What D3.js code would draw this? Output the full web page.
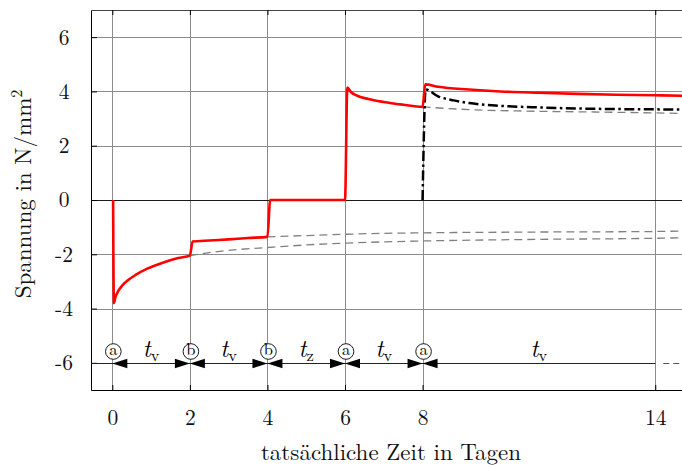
<!DOCTYPE html>
<html><head><meta charset="utf-8">
<script src="https://cdn.jsdelivr.net/npm/d3@7"></script>
<style>body{margin:0;background:#fff} svg{display:block}</style>
</head><body><svg id="c" width="682" height="466"></svg>
<script>
// ---------- data ----------
const xTicks = [0, 2, 4, 6, 8, 14];
const yTicks = [-6, -4, -2, 0, 2, 4, 6];
const yTickLabels = ["-6", "-4", "-2", "0", "2", "4", "6"];

// resulting stress (red)
const redSeries = [
  [0.02, 0], [0.04, -3.80], [0.08, -3.58], [0.15, -3.36], [0.25, -3.16], [0.4, -2.96],
  [0.6, -2.76], [0.9, -2.53], [1.3, -2.31], [1.7, -2.14], [2.0, -2.05],
  [2.07, -1.53], [2.5, -1.49], [3.0, -1.45], [3.5, -1.40], [4.0, -1.36],
  [4.07, 0], [6.0, 0],
  [6.06, 4.14], [6.15, 3.98], [6.3, 3.85], [6.6, 3.72], [7.0, 3.61], [7.5, 3.51], [8.0, 3.43],
  [8.07, 4.26], [8.4, 4.17], [9.2, 4.07], [10.0, 4.00], [11.0, 3.95], [12.0, 3.91],
  [13.0, 3.88], [14.0, 3.86], [14.7, 3.84]
];
// single load step at day 8 (black dash-dot)
const dashDotSeries = [
  [8.0, 0], [8.08, 4.07], [8.4, 3.82], [8.8, 3.67], [9.2, 3.57], [10.0, 3.47],
  [11.0, 3.41], [12.0, 3.37], [13.0, 3.35], [14.0, 3.34], [14.7, 3.33]
];
// continuations without further steps (gray dashed)
const grayA = [
  [2.0, -2.05], [2.6, -1.92], [3.2, -1.83], [4.0, -1.75], [5.2, -1.64], [6.6, -1.56],
  [8.0, -1.51], [11.0, -1.45], [14.0, -1.41], [14.7, -1.39]
];
const grayB = [
  [4.0, -1.36], [5.2, -1.30], [6.6, -1.24], [8.0, -1.21], [11.0, -1.18], [14.0, -1.16], [14.7, -1.14]
];
const grayC = [
  [8.0, 3.43], [9.2, 3.33], [10.9, 3.27], [12.6, 3.24], [14.7, 3.19]
];

// events on the time bar
const eventTimes = [0, 2, 4, 6, 8];
const eventLetters = ["a", "b", "b", "a", "a"];
const intervalCenters = [1, 3, 5, 7, 11];
const intervalSubs = ["v", "v", "z", "v", "v"];
const barLevel = -6;
const barEnd = 14;

const xLabel = "tatsächliche Zeit in Tagen";
const yLabel = "Spannung in N/mm";

// ---------- layout ----------
const L = 91, T = 10, R = 682.4, B = 390;
const svg = d3.select("#c");
const x = d3.scaleLinear().domain([-0.55, 14.7]).range([L, R]);
const y = d3.scaleLinear().domain([-7, 7]).range([B, T]);
const serif = '"Latin Modern Roman", "Liberation Serif", serif';
const setFont = (sel, size) => sel.style("font-family", serif).style("font-size", size + "px");

svg.append("defs").append("clipPath").attr("id", "pc")
  .append("rect").attr("x", L).attr("y", T).attr("width", R - L).attr("height", B - T);

// grid
const grid = svg.append("g");
grid.selectAll("line.v").data(xTicks).join("line")
  .attr("x1", d => Math.round(x(d)) + 0.5).attr("x2", d => Math.round(x(d)) + 0.5)
  .attr("y1", T).attr("y2", B).attr("stroke", "#8c8c8c").attr("stroke-width", 1);
grid.selectAll("line.h").data(yTicks.filter(d => d !== 0 && d !== barLevel)).join("line")
  .attr("y1", d => Math.round(y(d)) + 0.5).attr("y2", d => Math.round(y(d)) + 0.5)
  .attr("x1", L).attr("x2", R).attr("stroke", "#8c8c8c").attr("stroke-width", 1);
grid.append("line").attr("x1", L).attr("x2", R)
  .attr("y1", Math.round(y(0)) + 0.5).attr("y2", Math.round(y(0)) + 0.5)
  .attr("stroke", "#1a1a1a").attr("stroke-width", 1.1);

// axes
const gB = svg.append("g").attr("transform", `translate(0,${B})`)
  .call(d3.axisBottom(x).tickValues(xTicks).tickSizeInner(-5).tickSizeOuter(0).tickPadding(20).tickFormat(d3.format("d")));
const gT = svg.append("g").attr("transform", `translate(0,${T})`)
  .call(d3.axisTop(x).tickValues(xTicks).tickSizeInner(-5).tickSizeOuter(0).tickFormat(""));
const gL = svg.append("g").attr("transform", `translate(${L},0)`)
  .call(d3.axisLeft(y).tickValues(yTicks).tickSizeInner(-6).tickSizeOuter(0).tickFormat((d, i) => yTickLabels[i]));
[gB, gT, gL].forEach(g => {
  g.attr("font-family", null).attr("font-size", null);
  setFont(g.selectAll("text"), 21.5).attr("fill", "#111");
  g.selectAll("line").attr("stroke", "#000");
});
gT.select(".domain").attr("stroke", "#444");
gB.select(".domain").attr("stroke", "#000");
gL.select(".domain").attr("stroke", "#000");
gL.selectAll("text").attr("text-anchor", "middle").attr("x", -27);

// curves
const plot = svg.append("g").attr("clip-path", "url(#pc)");
const line = d3.line().x(d => x(d[0])).y(d => y(d[1])).curve(d3.curveMonotoneX);
[grayA, grayB, grayC].forEach(s => plot.append("path").attr("d", line(s))
  .attr("fill", "none").attr("stroke", "#808080").attr("stroke-width", 1.3).attr("stroke-dasharray", "8,5"));
plot.append("path").attr("d", line(dashDotSeries)).attr("fill", "none")
  .attr("stroke", "#000").attr("stroke-width", 2.5).attr("stroke-dasharray", "10,3.5,2.5,3.5");
plot.append("path").attr("d", line(redSeries)).attr("fill", "none")
  .attr("stroke", "#ff0000").attr("stroke-width", 2.6).attr("stroke-linejoin", "round");

// time bar
const yb = Math.round(y(barLevel)) + 0.5;
plot.append("line").attr("x1", L).attr("x2", x(barEnd)).attr("y1", yb).attr("y2", yb)
  .attr("stroke", "#222").attr("stroke-width", 1.1);
plot.append("line").attr("x1", x(barEnd) + 8).attr("x2", R).attr("y1", yb).attr("y2", yb)
  .attr("stroke", "#555").attr("stroke-width", 1.1).attr("stroke-dasharray", "6,4");

const tri = svg.append("g");
eventTimes.forEach((t, i) => {
  const tx = x(t);
  tri.append("path").attr("d", `M${tx},${yb}L${tx + 15},${yb - 4.8}L${tx + 15},${yb + 4.8}Z`).attr("fill", "#000");
  if (i > 0) tri.append("path").attr("d", `M${tx},${yb}L${tx - 15},${yb - 4.8}L${tx - 15},${yb + 4.8}Z`).attr("fill", "#000");
  tri.append("circle").attr("cx", tx + 1).attr("cy", yb - 12).attr("r", 7.8)
    .attr("fill", "#fff").attr("stroke", "#000").attr("stroke-width", 0.9);
  setFont(tri.append("text").attr("x", tx + 1).attr("y", yb - 8.2).attr("text-anchor", "middle"), 16.5)
    .attr("fill", "#000").text(eventLetters[i]);
});
intervalCenters.forEach((t, i) => {
  const tx = setFont(svg.append("text").attr("x", x(t)).attr("y", yb - 7).attr("text-anchor", "middle"), 24)
    .attr("fill", "#000");
  tx.append("tspan").style("font-style", "italic").text("t");
  tx.append("tspan").style("font-size", "16.5px").attr("dy", 4).text(intervalSubs[i]);
});

// axis titles
setFont(svg.append("text").attr("x", 391).attr("y", 460).attr("text-anchor", "middle"), 23)
  .attr("fill", "#111").text(xLabel);
const yl = setFont(svg.append("text").attr("transform", "translate(31,194) rotate(-90)").attr("text-anchor", "middle"), 23)
  .attr("fill", "#111");
yl.append("tspan").text(yLabel);
yl.append("tspan").style("font-size", "16px").attr("dy", -9.5).text("2");
</script></body></html>
